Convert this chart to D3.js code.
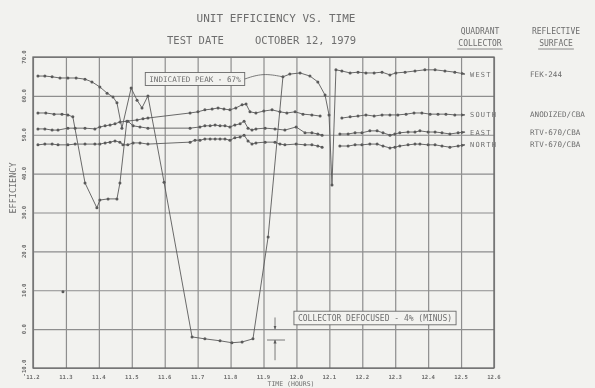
<!DOCTYPE html>
<html>
<head>
<meta charset="utf-8">
<script src="https://cdn.jsdelivr.net/npm/d3@7"></script>
<style>
  html, body { margin: 0; padding: 0; background: #f2f2ef; }
  svg { display: block; font-family: "DejaVu Sans Mono", monospace; }
</style>
</head>
<body>
<svg id="chart"></svg>
<script>
// x ticks (hours) and y ticks (efficiency, %)
const timeTicks = [11.2, 11.3, 11.4, 11.5, 11.6, 11.7, 11.8, 11.9, 12.0, 12.1, 12.2, 12.3, 12.4, 12.5, 12.6];
const effTicks = [-10, 0, 10, 20, 30, 40, 50, 60, 70];

const quadrants = ['WEST', 'SOUTH', 'EAST', 'NORTH'];
const surfaces = ['FEK-244', 'ANODIZED/CBA', 'RTV-670/CBA', 'RTV-670/CBA'];

// [time, efficiency]; null = gap in the record
const west = [[11.215,65.1],[11.236,65.1],[11.258,64.9],[11.282,64.6],[11.306,64.6],[11.331,64.6],[11.358,64.3],[11.379,63.6],
  [11.403,62.3],[11.425,60.7],[11.443,59.7],[11.455,58.2],[11.470,51.7],[11.498,62.0],[11.516,58.9],[11.531,56.9],[11.549,60.0],
  [11.598,37.8],[11.683,-2.0],[11.722,-2.5],[11.768,-3.0],[11.804,-3.5],[11.835,-3.3],[11.868,-2.5],[11.914,23.7],[11.959,64.9],
  [11.980,65.6],[12.011,65.9],[12.041,65.1],[12.065,63.6],[12.087,60.2],[12.099,55.1],[12.108,37.1],[12.120,66.7],[12.138,66.4],
  [12.163,65.9],[12.187,66.1],[12.211,65.9],[12.236,65.9],[12.260,66.1],[12.284,65.4],[12.302,65.9],[12.330,66.1],[12.360,66.4],
  [12.390,66.7],[12.421,66.7],[12.451,66.4],[12.481,66.1],[12.512,65.6]];

const south = [[11.215,55.6],[11.239,55.6],[11.264,55.3],[11.288,55.3],[11.306,55.1],[11.321,54.6],[11.358,37.6],[11.394,31.2],
  [11.403,33.2],[11.428,33.5],[11.455,33.5],[11.464,37.6],[11.485,53.5],[11.516,53.8],[11.534,54.1],[11.549,54.3],[11.677,55.6],
  [11.701,55.9],[11.722,56.4],[11.744,56.6],[11.762,56.9],[11.780,56.6],[11.798,56.4],[11.816,56.9],[11.835,57.7],[11.847,57.9],
  [11.859,55.9],[11.877,55.6],[11.901,56.1],[11.926,56.4],[11.950,55.9],[11.971,55.6],[11.996,55.9],[12.020,55.3],[12.047,55.1],
  [12.072,54.8],null,[12.138,54.3],[12.163,54.6],[12.187,54.8],[12.211,55.1],[12.236,54.8],[12.260,55.1],[12.284,55.1],
  [12.308,55.1],[12.333,55.3],[12.357,55.6],[12.381,55.6],[12.406,55.3],[12.430,55.3],[12.454,55.3],[12.481,55.1],[12.512,55.1]];

const east = [[11.215,51.5],[11.236,51.5],[11.258,51.2],[11.276,51.2],[11.306,51.7],[11.328,51.7],[11.358,51.7],[11.388,51.5],
  [11.403,52.0],[11.419,52.3],[11.434,52.5],[11.449,52.8],[11.464,53.3],[11.488,53.5],[11.504,52.3],[11.525,52.0],[11.549,51.7],
  [11.677,51.7],[11.707,52.0],[11.722,52.3],[11.738,52.3],[11.753,52.5],[11.768,52.3],[11.783,52.3],[11.798,52.0],[11.813,52.5],
  [11.829,52.8],[11.841,53.5],[11.853,51.7],[11.865,51.2],[11.877,51.5],[11.905,51.7],[11.935,51.5],[11.965,51.2],[11.999,52.0],
  [12.026,50.5],[12.047,50.5],[12.065,50.2],[12.078,49.9],null,[12.132,50.2],[12.157,50.2],[12.178,50.5],[12.199,50.5],
  [12.223,51.0],[12.245,51.0],[12.263,50.5],[12.284,49.9],[12.299,50.2],[12.314,50.5],[12.339,50.7],[12.360,50.7],[12.375,51.0],
  [12.400,50.7],[12.421,50.7],[12.442,50.5],[12.466,50.2],[12.491,50.5],[12.512,50.7]];

const north = [[11.215,47.4],[11.236,47.6],[11.258,47.6],[11.276,47.4],[11.306,47.4],[11.328,47.6],[11.358,47.6],[11.388,47.6],
  [11.403,47.6],[11.419,47.9],[11.434,48.1],[11.449,48.4],[11.464,48.1],[11.473,47.4],[11.488,47.4],[11.504,47.9],[11.525,47.9],
  [11.549,47.6],[11.677,48.1],[11.692,48.6],[11.707,48.6],[11.722,48.9],[11.738,48.9],[11.753,48.9],[11.768,48.9],[11.783,48.9],
  [11.798,48.6],[11.813,49.2],[11.829,49.4],[11.841,49.9],[11.853,48.4],[11.865,47.6],[11.877,47.9],[11.905,48.1],[11.935,48.1],
  [11.950,47.6],[11.965,47.4],[11.999,47.6],[12.026,47.4],[12.047,47.4],[12.065,47.1],[12.078,46.8],null,[12.132,47.1],
  [12.157,47.1],[12.178,47.4],[12.199,47.4],[12.223,47.6],[12.245,47.6],[12.263,47.1],[12.284,46.6],[12.299,46.8],[12.314,47.1],
  [12.339,47.4],[12.360,47.6],[12.375,47.6],[12.400,47.4],[12.421,47.4],[12.442,47.1],[12.466,46.8],[12.491,47.1],[12.512,47.4]];

const strayPoints = [[11.291, 9.6]];

const series = [west, south, east, north];

const width = 595, height = 388;
const margin = { top: 57, right: 101, bottom: 20, left: 33 };
const ink = '#5a5a5a';
const grid = '#8e8e8e';
const textCol = '#6e6e6e';

const svg = d3.select('#chart').attr('width', width).attr('height', height);

const defs = svg.append('defs');
defs.append('filter').attr('id', 'scan')
    .append('feGaussianBlur').attr('stdDeviation', 0.35);
defs.append('marker')
    .attr('id', 'arrow')
    .attr('viewBox', '0 0 10 10')
    .attr('refX', 9).attr('refY', 5)
    .attr('markerWidth', 5).attr('markerHeight', 5)
    .attr('orient', 'auto')
    .append('path').attr('d', 'M0,1L10,5L0,9Z').attr('fill', ink);

const root = svg.append('g').attr('filter', 'url(#scan)');

const x = d3.scaleLinear()
    .domain([timeTicks[0], timeTicks[timeTicks.length - 1]])
    .range([margin.left, width - margin.right]);
const y = d3.scaleLinear()
    .domain([effTicks[0], effTicks[effTicks.length - 1]])
    .range([height - margin.bottom, margin.top]);

// grid + frame
root.append('g')
    .attr('transform', `translate(0,${height - margin.bottom})`)
    .call(d3.axisBottom(x).tickValues(timeTicks).tickSize(-(height - margin.top - margin.bottom)).tickFormat(''))
    .call(g => g.select('.domain').remove())
    .call(g => g.selectAll('line').attr('stroke', grid).attr('stroke-width', 1.2));
root.append('g')
    .attr('transform', `translate(${margin.left},0)`)
    .call(d3.axisLeft(y).tickValues(effTicks).tickSize(-(width - margin.left - margin.right)).tickFormat(''))
    .call(g => g.select('.domain').remove())
    .call(g => g.selectAll('line').attr('stroke', grid).attr('stroke-width', 1.2));
root.append('rect')
    .attr('x', margin.left).attr('y', margin.top)
    .attr('width', width - margin.left - margin.right)
    .attr('height', height - margin.top - margin.bottom)
    .attr('fill', 'none').attr('stroke', '#6a6a6a').attr('stroke-width', 1.3);

// tick labels
root.append('g').selectAll('text').data(timeTicks).join('text')
    .attr('x', d => x(d)).attr('y', height - margin.bottom + 11)
    .attr('text-anchor', 'middle').attr('font-size', 5.6).attr('font-weight', 'bold')
    .attr('fill', textCol).text(d => d.toFixed(1));
root.append('g').selectAll('text').data(effTicks).join('text')
    .attr('transform', d => `translate(${margin.left - 7},${y(d)}) rotate(-90)`)
    .attr('text-anchor', 'middle').attr('font-size', 5.6).attr('font-weight', 'bold')
    .attr('fill', textCol).text(d => d.toFixed(1));

root.append('text')
    .attr('transform', `translate(16,188) rotate(-90)`)
    .attr('text-anchor', 'middle').attr('font-size', 8.5).attr('fill', textCol)
    .text('EFFICIENCY');
root.append('text')
    .attr('x', 291).attr('y', 386)
    .attr('text-anchor', 'middle').attr('font-size', 6.5).attr('fill', textCol)
    .text('TIME (HOURS)');

// titles
root.append('text').attr('x', 276).attr('y', 22).attr('text-anchor', 'middle')
    .attr('font-size', 11).attr('fill', textCol).text('UNIT EFFICIENCY VS. TIME');
root.append('text').attr('x', 167).attr('y', 44)
    .attr('font-size', 10.5).attr('fill', textCol).text('TEST DATE');
root.append('text').attr('x', 255).attr('y', 44)
    .attr('font-size', 10.5).attr('fill', textCol).text('OCTOBER 12, 1979');

// column headers
const headers = [
  { x: 480, lines: ['QUADRANT', 'COLLECTOR'] },
  { x: 556, lines: ['REFLECTIVE', 'SURFACE'] }
];
headers.forEach(h => {
  h.lines.forEach((t, i) => {
    const el = root.append('text').attr('x', h.x).attr('y', 34 + i * 12)
        .attr('text-anchor', 'middle').attr('font-size', 8).attr('fill', textCol).text(t);
    if (i === 1) {
      const w = el.node().getComputedTextLength();
      root.append('line').attr('x1', h.x - w / 2 - 1).attr('x2', h.x + w / 2 + 1)
          .attr('y1', 49).attr('y2', 49).attr('stroke', textCol).attr('stroke-width', 0.8);
    }
  });
});

// series
const line = d3.line().defined(d => d !== null).x(d => x(d[0])).y(d => y(d[1]));
series.forEach((s, i) => {
  root.append('path').datum(s)
      .attr('d', line)
      .attr('fill', 'none').attr('stroke', ink).attr('stroke-width', 0.9)
      .attr('marker-end', 'url(#arrow)');
  root.append('g').selectAll('circle').data(s.filter(d => d !== null).slice(0, -1)).join('circle')
      .attr('cx', d => x(d[0])).attr('cy', d => y(d[1])).attr('r', 1.5).attr('fill', ink);
  const last = s[s.length - 1];
  const ly = y(last[1]) + 2.5;
  root.append('text').attr('x', x(last[0]) + 5).attr('y', ly)
      .attr('font-size', 7).attr('letter-spacing', 1.2).attr('fill', textCol).text(quadrants[i]);
  root.append('text').attr('x', 530).attr('y', ly)
      .attr('font-size', 7.6).attr('fill', textCol).text(surfaces[i]);
});
root.append('g').selectAll('circle').data(strayPoints).join('circle')
    .attr('cx', d => x(d[0])).attr('cy', d => y(d[1])).attr('r', 1.5).attr('fill', ink);

// annotations
function boxLabel(cx, cy, text, size) {
  const t = root.append('text').attr('x', cx).attr('y', cy + size * 0.36)
      .attr('text-anchor', 'middle').attr('font-size', size).attr('fill', textCol).text(text);
  const w = t.node().getComputedTextLength();
  root.insert('rect', () => t.node())
      .attr('x', cx - w / 2 - 4).attr('y', cy - size * 0.85)
      .attr('width', w + 8).attr('height', size * 1.7)
      .attr('fill', '#f2f2ef').attr('stroke', '#6a6a6a').attr('stroke-width', 0.9);
  return cx + w / 2 + 4;
}
const peakRight = boxLabel(195, 79, 'INDICATED PEAK - 67%', 7.6);
root.append('path')
    .attr('d', d3.line().curve(d3.curveBasis)([[peakRight, 79], [peakRight + 18, 73], [x(11.959), y(64.9)]]))
    .attr('fill', 'none').attr('stroke', ink).attr('stroke-width', 0.8);

boxLabel(375, 318, 'COLLECTOR DEFOCUSED - 4% (MINUS)', 8);

// dimension marker for the defocused offset
const mx = x(11.935);
root.append('line').attr('x1', mx).attr('x2', mx).attr('y1', y(3)).attr('y2', y(0))
    .attr('stroke', ink).attr('stroke-width', 0.8).attr('marker-end', 'url(#arrow)');
root.append('line').attr('x1', mx - 8).attr('x2', mx + 10).attr('y1', y(-2.8)).attr('y2', y(-2.8))
    .attr('stroke', ink).attr('stroke-width', 0.8);
root.append('line').attr('x1', mx).attr('x2', mx).attr('y1', y(-8)).attr('y2', y(-2.8))
    .attr('stroke', ink).attr('stroke-width', 0.8).attr('marker-end', 'url(#arrow)');
</script>
</body>
</html>
